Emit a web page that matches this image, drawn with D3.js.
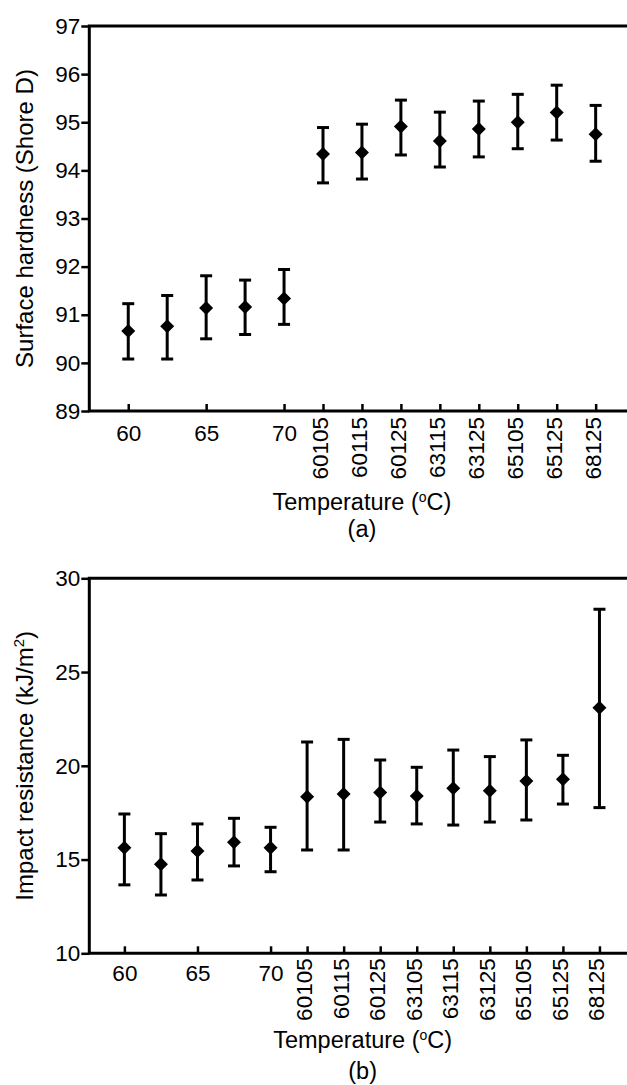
<!DOCTYPE html>
<html>
<head>
<meta charset="utf-8">
<script src="https://cdn.jsdelivr.net/npm/d3@7"></script>
<style>
  body { margin: 0; background: #fff; }
  svg { display: block; }
  text { font-family: "Liberation Sans", Arial, sans-serif; fill: #000; }
</style>
</head>
<body>
<svg id="chart" width="627" height="1085"></svg>
<script>
// ---- data ----
const numTemps = [60, 62.5, 65, 67.5, 70];           // plain temperatures
const numTicks = [60, 65, 70];

const codesA = ["60105", "60115", "60125", "63115", "63125", "65105", "65125", "68125"];
const hardMean = [90.66, 90.76, 91.14, 91.16, 91.34, 94.34, 94.37, 94.91, 94.61, 94.86, 95.00, 95.20, 94.75];
const hardHi   = [91.23, 91.40, 91.81, 91.72, 91.94, 94.89, 94.96, 95.46, 95.21, 95.44, 95.58, 95.77, 95.35];
const hardLo   = [90.08, 90.08, 90.50, 90.59, 90.80, 93.74, 93.82, 94.32, 94.07, 94.28, 94.45, 94.63, 94.19];

const codesB = ["60105", "60115", "60125", "63105", "63115", "63125", "65105", "65125", "68125"];
const impMean = [15.63, 14.75, 15.46, 15.92, 15.63, 18.35, 18.50, 18.57, 18.39, 18.80, 18.67, 19.19, 19.28, 23.10];
const impHi   = [17.43, 16.38, 16.90, 17.20, 16.72, 21.27, 21.41, 20.31, 19.92, 20.84, 20.49, 21.38, 20.56, 28.35];
const impLo   = [13.65, 13.11, 13.91, 14.66, 14.35, 15.51, 15.51, 17.00, 16.90, 16.84, 17.00, 17.11, 17.96, 17.77];

const svg = d3.select("#chart");
const FS = 22.5;   // tick labels
const TS = 23.5;   // titles

// codes sit after the numeric temps, 2.5 apart
function buildRows(codes, mean, hi, lo) {
  const pos = numTemps.concat(codes.map((c, i) => 70 + 2.5 * (i + 1)));
  return pos.map((p, i) => ({pos: p, mean: mean[i], hi: hi[i], lo: lo[i]}));
}

function drawPanel(cfg) {
  const g = svg.append("g");
  const x = d3.scaleLinear().domain(cfg.xDomain).range([cfg.left, cfg.right]);
  const y = d3.scaleLinear().domain(cfg.yDomain).range([cfg.bottom, cfg.top]);
  const rows = buildRows(cfg.codes, cfg.mean, cfg.hi, cfg.lo);

  // y axis, ticks outward
  g.append("g")
    .attr("transform", "translate(" + cfg.left + ",0)")
    .call(d3.axisLeft(y).ticks(cfg.yTicks).tickSizeInner(8).tickSizeOuter(0).tickPadding(1))
    .call(a => a.select(".domain").remove())
    .call(a => a.selectAll("line").attr("stroke-width", 2.5))
    .call(a => a.selectAll("text").attr("font-size", FS).attr("fill", "#000")
      .attr("font-family", "Liberation Sans, Arial, sans-serif"));

  // x axis, ticks inward; numeric labels flat, code labels rotated
  const tickVals = numTicks.concat(cfg.codes.map((c, i) => 70 + 2.5 * (i + 1)));
  const tickLbl = numTicks.map(String).concat(cfg.codes);
  g.append("g")
    .attr("transform", "translate(0," + cfg.bottom + ")")
    .call(d3.axisBottom(x).tickValues(tickVals).tickSizeInner(-7).tickSizeOuter(0)
      .tickFormat((d, i) => tickLbl[i]))
    .call(a => a.select(".domain").remove())
    .call(a => a.selectAll("line").attr("stroke-width", 2.5))
    .call(a => a.selectAll("text").attr("font-size", FS).attr("fill", "#000")
      .attr("font-family", "Liberation Sans, Arial, sans-serif"))
    .call(a => a.selectAll("text").filter((d, i) => i < numTicks.length)
      .attr("y", cfg.flatY).attr("dy", "0.71em"))
    .call(a => a.selectAll("text").filter((d, i) => i >= numTicks.length)
      .attr("transform", "rotate(-90)")
      .attr("text-anchor", "end")
      .attr("x", -cfg.rotGap).attr("y", 0).attr("dy", "0.2em"));

  // frame (right side runs past the window)
  g.append("path")
    .attr("d", "M" + (cfg.right + 10) + "," + cfg.top + "H" + cfg.left + "V" + cfg.bottom + "H" + (cfg.right + 10))
    .attr("fill", "none").attr("stroke", "#000").attr("stroke-width", 3);

  // error bars
  const eb = g.selectAll(".eb").data(rows).enter().append("g").attr("class", "eb");
  eb.append("line")
    .attr("x1", d => x(d.pos)).attr("x2", d => x(d.pos))
    .attr("y1", d => y(d.hi)).attr("y2", d => y(d.lo))
    .attr("stroke", "#000").attr("stroke-width", 3);
  eb.append("line")
    .attr("x1", d => x(d.pos) - 6).attr("x2", d => x(d.pos) + 6)
    .attr("y1", d => y(d.hi)).attr("y2", d => y(d.hi))
    .attr("stroke", "#000").attr("stroke-width", 3);
  eb.append("line")
    .attr("x1", d => x(d.pos) - 6).attr("x2", d => x(d.pos) + 6)
    .attr("y1", d => y(d.lo)).attr("y2", d => y(d.lo))
    .attr("stroke", "#000").attr("stroke-width", 3);

  // diamond markers
  g.selectAll(".pt").data(rows).enter().append("path")
    .attr("class", "pt")
    .attr("d", d3.symbol().type(d3.symbolSquare).size(98))
    .attr("transform", d => "translate(" + x(d.pos) + "," + y(d.mean) + ") rotate(45)")
    .attr("fill", "#000");

  // axis titles
  const mid = (cfg.left + cfg.right) / 2;
  const xt = g.append("text")
    .attr("x", mid).attr("y", cfg.xTitleY)
    .attr("text-anchor", "middle").attr("font-size", TS);
  xt.append("tspan").text("Temperature (");
  xt.append("tspan").text("o").attr("font-size", 14).attr("dy", -8);
  xt.append("tspan").text("C)").attr("dy", 8);

  g.append("text")
    .attr("x", mid).attr("y", cfg.capY)
    .attr("text-anchor", "middle").attr("font-size", TS)
    .text(cfg.cap);

  const yt = g.append("text")
    .attr("transform", "rotate(-90)")
    .attr("x", -(cfg.top + cfg.bottom) / 2).attr("y", 33)
    .attr("text-anchor", "middle").attr("font-size", 24);
  yt.append("tspan").text(cfg.yTitle);
  if (cfg.yTitleSup) {
    yt.append("tspan").text(cfg.yTitleSup).attr("font-size", 15).attr("dy", -9);
    yt.append("tspan").text(")").attr("dy", 9);
  }
}

drawPanel({
  xDomain: [57.5, 92.5], left: 89.3, right: 634.6,
  yDomain: [89, 97], top: 26, bottom: 411, yTicks: 8,
  codes: codesA, mean: hardMean, hi: hardHi, lo: hardLo,
  flatY: 14, rotGap: 6,
  xTitleY: 510, capY: 537, cap: "(a)",
  yTitle: "Surface hardness (Shore D)"
});

drawPanel({
  xDomain: [57.6, 95], left: 89.3, right: 636,
  yDomain: [10, 30], top: 578.3, bottom: 953.3, yTicks: 4,
  codes: codesB, mean: impMean, hi: impHi, lo: impLo,
  flatY: 12, rotGap: 5,
  xTitleY: 1048, capY: 1079, cap: "(b)",
  yTitle: "Impact resistance (kJ/m", yTitleSup: "2"
});
</script>
</body>
</html>
